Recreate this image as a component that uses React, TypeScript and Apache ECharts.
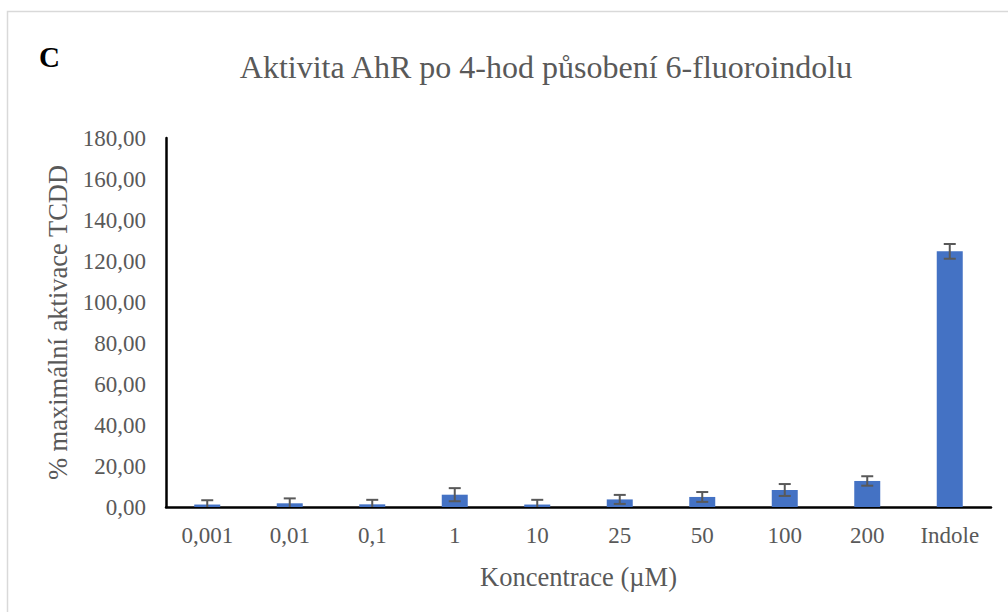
import React, { useEffect, useRef } from "react";
import * as echarts from "echarts";

const categories = ["0,001", "0,01", "0,1", "1", "10", "25", "50", "100", "200", "Indole"];
const values = [1.2, 1.8, 1.3, 6.0, 1.2, 3.7, 4.9, 8.3, 12.7, 124.7];
const errors = [2.1, 2.4, 2.2, 3.2, 2.3, 2.2, 2.4, 2.9, 2.3, 3.6];
const yTicks = { min: 0, max: 180, interval: 20 };

const TEXT = "#595959";
const FONT = "'Liberation Serif', 'Times New Roman', serif";

export default function App() {
  const ref = useRef<HTMLDivElement>(null);
  useEffect(() => {
    if (!ref.current) return;
    const chart = echarts.init(ref.current, null, { renderer: "svg" });
    const errData = values.map((v, i) => [i, v - errors[i], v + errors[i]]);
    chart.setOption({
      animation: false,
      backgroundColor: "#ffffff",
      textStyle: { fontFamily: FONT },
      title: {
        text: "Aktivita AhR po 4-hod působení 6-fluoroindolu",
        left: 541,
        top: 62,
        textAlign: "center",
        textVerticalAlign: "middle",
        textStyle: { fontFamily: FONT, fontSize: 32, fontWeight: "normal", color: TEXT },
      },
      graphic: [
        {
          type: "rect",
          shape: { x: 7.5, y: 11.5, width: 1010, height: 610 },
          style: { fill: "none", stroke: "#d9d9d9", lineWidth: 1.5 },
          silent: true,
        },
        {
          type: "text",
          x: 39,
          y: 57,
          style: {
            text: "C",
            font: `bold 29px ${FONT}`,
            fill: "#000000",
            verticalAlign: "middle",
          },
        },
      ],
      grid: { left: 166, right: 17, top: 138, bottom: 105 },
      xAxis: {
        type: "category",
        data: categories,
        name: "Koncentrace (µM)",
        nameLocation: "middle",
        nameGap: 56,
        nameTextStyle: { fontFamily: FONT, fontSize: 26.5, color: TEXT },
        axisLine: { lineStyle: { color: "#000000", width: 2.5 } },
        axisTick: { show: false },
        axisLabel: { fontFamily: FONT, fontSize: 23, color: TEXT, margin: 17, interval: 0 },
      },
      yAxis: {
        type: "value",
        min: yTicks.min,
        max: yTicks.max,
        interval: yTicks.interval,
        name: "% maximální aktivace TCDD",
        nameLocation: "middle",
        nameGap: 93,
        nameTextStyle: { fontFamily: FONT, fontSize: 26.5, color: TEXT },
        axisLine: { show: true, lineStyle: { color: "#000000", width: 2.5 } },
        axisTick: { show: false },
        splitLine: { show: false },
        axisLabel: {
          fontFamily: FONT,
          fontSize: 23,
          color: TEXT,
          margin: 20,
          formatter: (v: number) => v.toFixed(2).replace(".", ","),
        },
      },
      series: [
        {
          type: "bar",
          data: values,
          barWidth: 26,
          itemStyle: { color: "#4472C4" },
        },
        {
          type: "custom",
          data: errData,
          z: 10,
          clip: true,
          renderItem: (params: any, api: any) => {
            const x = api.value(0);
            const lo = api.coord([x, api.value(1)]);
            const hi = api.coord([x, api.value(2)]);
            const half = 6;
            const style = { stroke: "#595959", lineWidth: 2 };
            return {
              type: "group",
              children: [
                { type: "line", shape: { x1: hi[0], y1: hi[1], x2: lo[0], y2: lo[1] }, style },
                { type: "line", shape: { x1: hi[0] - half, y1: hi[1], x2: hi[0] + half, y2: hi[1] }, style },
                { type: "line", shape: { x1: lo[0] - half, y1: lo[1], x2: lo[0] + half, y2: lo[1] }, style },
              ],
            };
          },
        },
      ],
    });
    return () => chart.dispose();
  }, []);
  return (
    <div
      ref={ref}
      style={{ position: "fixed", left: 0, top: 0, width: 1008, height: 612 }}
    />
  );
}
